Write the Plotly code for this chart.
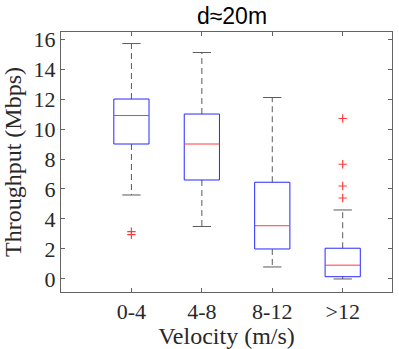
import plotly.graph_objects as go

categories = ['0-4', '4-8', '8-12', '>12']
q1 = [9.0, 6.6, 2.0, 0.15]
median = [10.9, 9.0, 3.55, 0.92]
q3 = [12.0, 11.0, 6.45, 2.05]
lower_whisker = [5.6, 3.5, 0.8, 0.0]
upper_whisker = [15.7, 15.1, 12.1, 4.6]
outliers = [[2.95, 3.15], [], [], [5.4, 6.2, 7.65, 10.7]]

box_half = 0.25
cap_half = 0.13

box_x, box_y = [], []
med_x, med_y = [], []
wh_x, wh_y = [], []
cap_x, cap_y = [], []
out_x, out_y = [], []
for i in range(len(categories)):
    box_x += [i - box_half, i + box_half, i + box_half, i - box_half, i - box_half, None]
    box_y += [q1[i], q1[i], q3[i], q3[i], q1[i], None]
    med_x += [i - box_half, i + box_half, None]
    med_y += [median[i], median[i], None]
    wh_x += [i, i, None, i, i, None]
    wh_y += [q3[i], upper_whisker[i], None, q1[i], lower_whisker[i], None]
    cap_x += [i - cap_half, i + cap_half, None, i - cap_half, i + cap_half, None]
    cap_y += [upper_whisker[i], upper_whisker[i], None, lower_whisker[i], lower_whisker[i], None]
    out_x += [i] * len(outliers[i])
    out_y += outliers[i]

serif = 'Liberation Serif, Times New Roman, serif'

fig = go.Figure()
fig.add_trace(go.Scatter(x=wh_x, y=wh_y, mode='lines',
                         line=dict(color='rgb(90,90,90)', width=1, dash='6px,4px'), hoverinfo='skip'))
fig.add_trace(go.Scatter(x=cap_x, y=cap_y, mode='lines',
                         line=dict(color='rgb(90,90,90)', width=1), hoverinfo='skip'))
fig.add_trace(go.Scatter(x=box_x, y=box_y, mode='lines',
                         line=dict(color='rgb(40,40,255)', width=1), hoverinfo='skip'))
fig.add_trace(go.Scatter(x=med_x, y=med_y, mode='lines',
                         line=dict(color='rgb(255,60,60)', width=1), hoverinfo='skip'))
fig.add_trace(go.Scatter(x=out_x, y=out_y, mode='markers',
                         marker=dict(symbol='cross-thin', size=6, line=dict(color='rgb(255,60,60)', width=1.2))))

axis_common = dict(showgrid=False, zeroline=False, showline=True, linecolor='rgb(100,100,100)',
                   linewidth=1, mirror='ticks', ticks='inside', ticklen=4, tickcolor='rgb(100,100,100)')

fig.update_layout(
    width=399, height=349,
    margin=dict(l=61, r=7, t=32, b=57),
    plot_bgcolor='white', paper_bgcolor='white',
    showlegend=False,
    title=dict(text='d≈20m', x=232 / 399, xanchor='center', y=0.955, yanchor='middle',
               font=dict(family='Liberation Sans, Arial, sans-serif', size=23, color='black')),
    xaxis=dict(axis_common, range=[-1.0, 3.7], tickvals=list(range(len(categories))),
               ticktext=categories,
               tickfont=dict(family=serif, size=22, color='rgb(40,40,40)'),
               title=dict(text='Velocity (m/s)', standoff=0,
                          font=dict(family=serif, size=24, color='rgb(40,40,40)'))),
    yaxis=dict(axis_common, range=[-0.87, 16.47], tickvals=list(range(0, 17, 2)),
               tickfont=dict(family=serif, size=22, color='rgb(40,40,40)'),
               title=dict(text='Throughput (Mbps)', standoff=8,
                          font=dict(family=serif, size=24, color='rgb(40,40,40)'))),
)

fig.write_html("out.html", config={'displayModeBar': False},
               post_script="document.body.style.margin='0';")
